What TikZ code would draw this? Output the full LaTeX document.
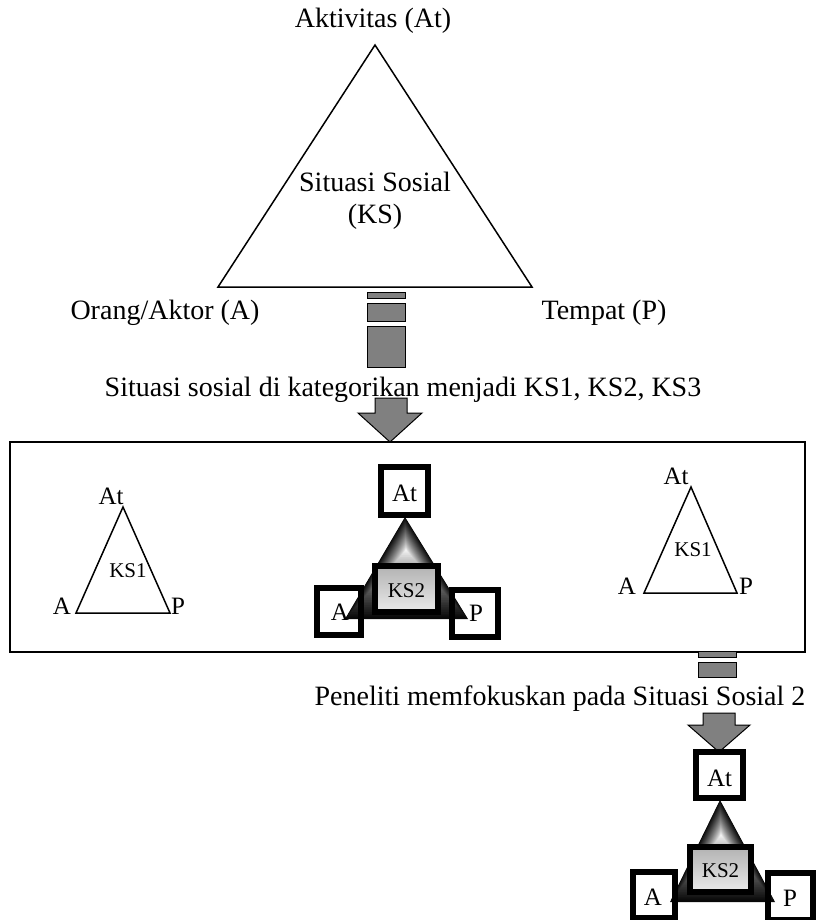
\documentclass[tikz,border=0pt]{standalone}
\usepackage{fontspec}
\setmainfont{Liberation Serif}
\begin{document}
\begin{tikzpicture}[x=1pt,y=-1pt,
  lbl/.style={font=\fontsize{28}{30}\selectfont, inner sep=0pt, anchor=base},
  small/.style={font=\fontsize{25}{27}\selectfont, inner sep=0pt, anchor=base},
  tiny/.style={font=\fontsize{21}{23}\selectfont, inner sep=0pt, anchor=base},
  thinline/.style={line width=1.5pt, line join=miter},
  blockgray/.style={fill=gray, draw=black, line width=1pt},
  thickbox/.style={draw=black, line width=5.5pt},
  innerbox/.style={top color=black!30, bottom color=black!8},
]
\useasboundingbox (0,0) rectangle (815,920);

% ---------- social situation triangle ----------
\coordinate (T1) at (375,45);
\coordinate (T2) at (218,287);
\coordinate (T3) at (532,287);
\draw[thinline] (T1) -- (T2) -- (T3) -- cycle;
\node[lbl] (akt) at (373,28) {Aktivitas (At)};
\node[lbl] (sit) at (375,192) {Situasi Sosial};
\node[lbl] (ks) at (375,223) {(KS)};
\node[lbl] (org) at (165,319) {Orang/Aktor (A)};
\node[lbl] (tmp) at (604,319) {Tempat (P)};

% ---------- first block arrow ----------
\draw[blockgray] (367,292) rectangle (405,298);
\draw[blockgray] (367,303) rectangle (405,321);
\draw[blockgray] (367,326) rectangle (405,367);
\node[lbl] (kat) at (403,396) {Situasi sosial di kategorikan menjadi KS1, KS2, KS3};
\draw[blockgray] (375,398) -- (407,398) -- (407,413) -- (422,413) -- (390,442)
  -- (358,413) -- (375,413) -- cycle;

% ---------- frame with three situations ----------
\draw[thinline] (10,442) rectangle (805,652);

% KS1 (left)
\draw[thinline] (123,507) -- (76,613) -- (170,613) -- cycle;
\node[small] (at1) at (111,504) {At};
\node[tiny] (ks1a) at (128,577) {KS1};
\node[small] (a1) at (62,614) {A};
\node[small] (p1) at (178,614) {P};

% KS1 (right)
\draw[thinline] (691,487) -- (644,593) -- (737,593) -- cycle;
\node[small] (at3) at (676,484) {At};
\node[tiny] (ks1b) at (693,556) {KS1};
\node[small] (a3) at (627,594) {A};
\node[small] (p3) at (746,594) {P};

% KS2 (middle): triangle with a gradient from its edges to a light centre
\foreach \i in {0,...,39} {
  \pgfmathsetmacro{\s}{1-\i/40}
  \pgfmathsetmacro{\d}{97*(\s)^0.8}
  \begin{scope}[shift={(406,550)}, scale=\s]
    \fill[black!\d!white] (-1,-33) -- (-61,69) -- (62,69) -- cycle;
  \end{scope}
}
\shade[innerbox] (375,566) rectangle (438,612);
\draw[thickbox] (375,566) rectangle (438,612);
\draw[thickbox] (381,467) rectangle (428,515);
\draw[thickbox] (317,588) rectangle (361,635);
\draw[thickbox] (452,590) rectangle (498,637);
\node[small] (at2) at (404.5,501) {At};
\node[tiny] (ks2a) at (406.5,597) {KS2};
\node[small] (a2) at (340,620) {A};
\node[small] (p2) at (476,621) {P};

% ---------- second block arrow ----------
\draw[blockgray] (698,651) rectangle (736,657);
\draw[blockgray] (698,662) rectangle (736,677);
\node[lbl] (pen) at (560,705) {Peneliti memfokuskan pada Situasi Sosial 2};
\draw[blockgray] (703,713) -- (735,713) -- (735,725) -- (750,725) -- (719,752)
  -- (688,725) -- (703,725) -- cycle;

% KS2 (focused)
\foreach \i in {0,...,39} {
  \pgfmathsetmacro{\s}{1-\i/40}
  \pgfmathsetmacro{\d}{97*(\s)^0.8}
  \begin{scope}[shift={(721,835)}, scale=\s]
    \fill[black!\d!white] (-1,-35) -- (-51,67) -- (54,67) -- cycle;
  \end{scope}
}
\shade[innerbox] (690,847) rectangle (751,892);
\draw[thickbox] (690,847) rectangle (751,892);
\draw[thickbox] (696,752) rectangle (743,798);
\draw[thickbox] (633,872) rectangle (675,918);
\draw[thickbox] (768,873) rectangle (813,920);
\node[small] (at4) at (719.5,786) {At};
\node[tiny] (ks2b) at (720.5,877) {KS2};
\node[small] (a4) at (653,905) {A};
\node[small] (p4) at (790,906) {P};
\end{tikzpicture}
\end{document}
